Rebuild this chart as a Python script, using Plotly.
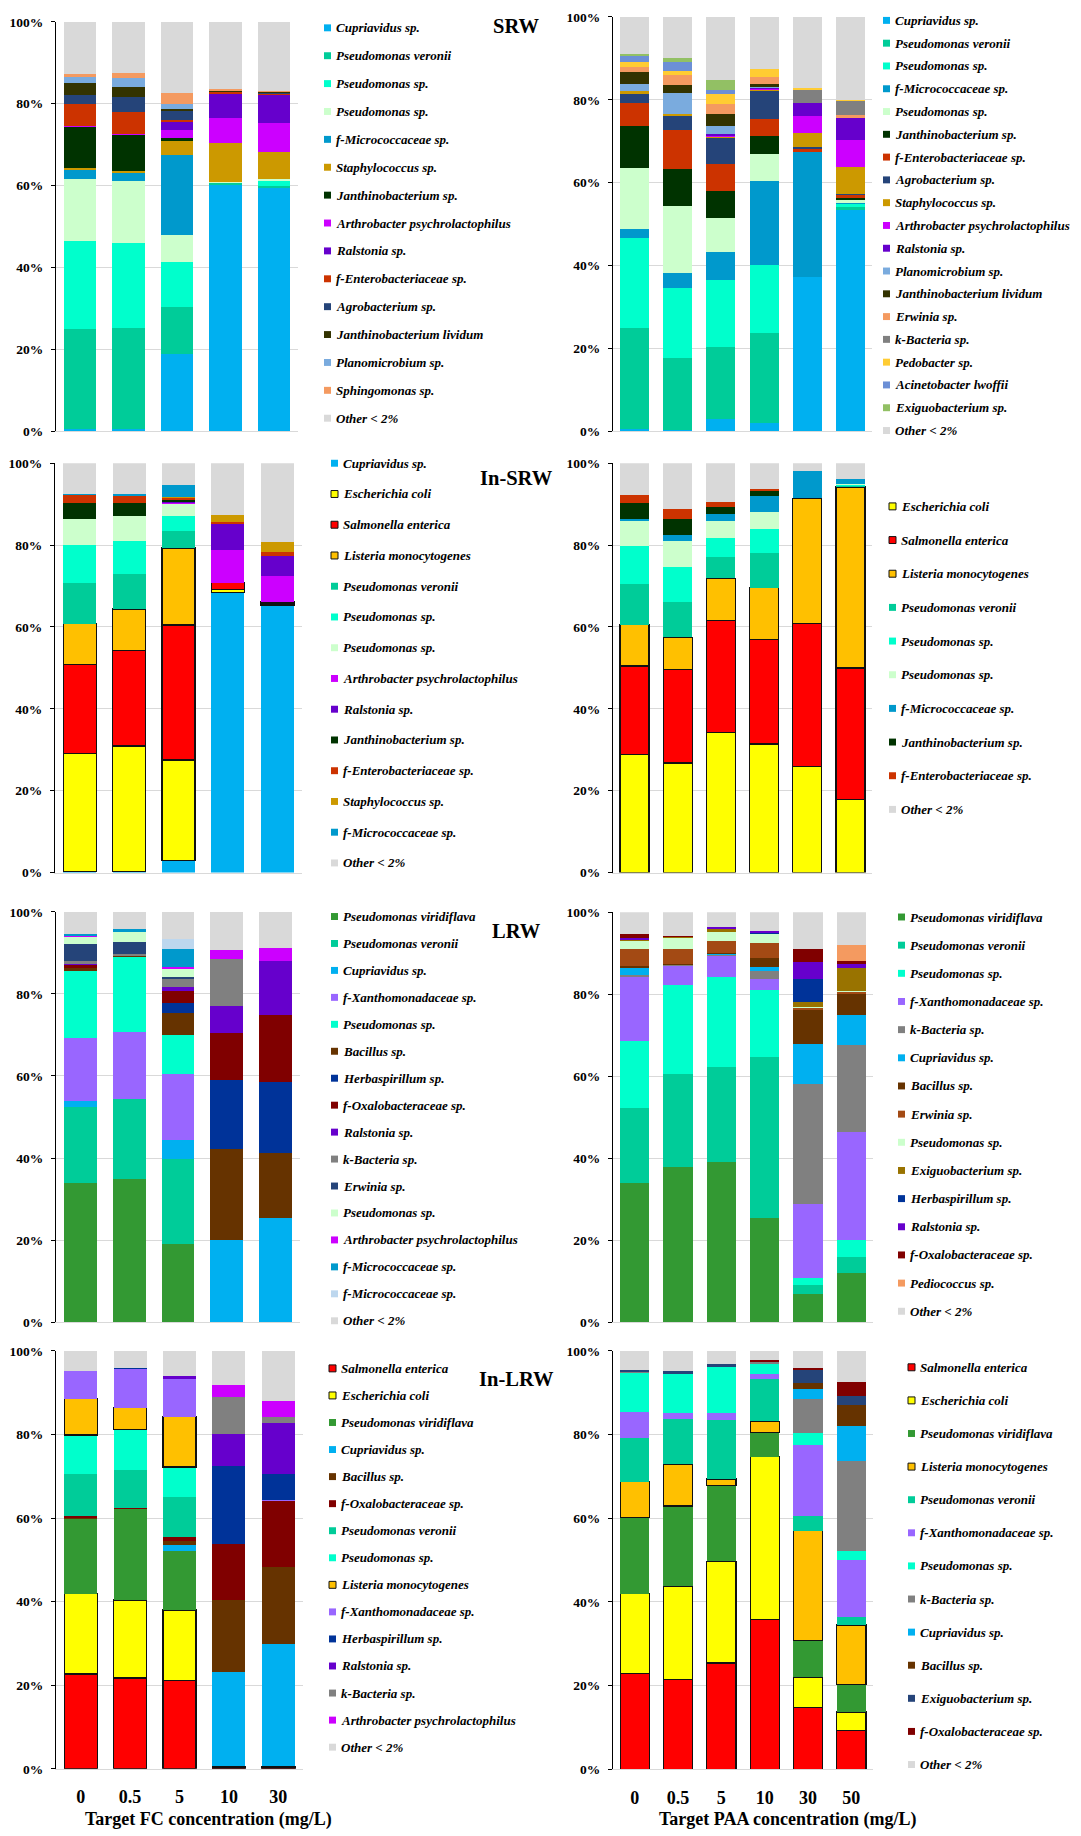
import plotly.graph_objects as go

W, H = 1081, 1836
FONT = "Liberation Serif"

FC_DOSES = ["0", "0.5", "5", "10", "30"]
PAA_DOSES = ["0", "0.5", "5", "10", "30", "50"]

PATHOGENS = {"Escherichia coli", "Salmonella enterica", "Listeria monocytogenes"}

# ---------------- SRW, free chlorine ----------------
SRW_FC_TAXA = ["Cupriavidus sp.", "Pseudomonas veronii", "Pseudomonas sp.", "Pseudomonas sp.",
               "f-Micrococcaceae sp.", "Staphylococcus sp.", "Janthinobacterium sp.",
               "Arthrobacter psychrolactophilus", "Ralstonia sp.", "f-Enterobacteriaceae sp.",
               "Agrobacterium sp.", "Janthinobacterium lividum", "Planomicrobium sp.",
               "Sphingomonas sp.", "Other < 2%"]
SRW_FC_COLOURS = ["#00B0F0", "#00CC99", "#00FFCC", "#CCFFCC", "#0099CC", "#CC9900", "#003300",
                  "#CC00FF", "#6600CC", "#CC3300", "#254479", "#333300", "#7AABDE", "#F49A60",
                  "#D9D9D9"]
SRW_FC_VALUES = [
    [0.5, 0.5, 18.9, 60.4, 59.5],
    [24.4, 24.6, 11.4, 0.4, 0.5],
    [21.6, 20.9, 11.1, 0.0, 1.2],
    [15.0, 15.2, 6.5, 0.2, 0.4],
    [2.2, 2.0, 19.5, 0.0, 0.0],
    [0.6, 0.4, 3.4, 9.3, 6.7],
    [10.1, 8.8, 0.8, 0.0, 0.0],
    [0.2, 0.1, 2.1, 6.1, 7.1],
    [0.0, 0.0, 2.0, 6.1, 6.8],
    [5.4, 5.6, 0.4, 0.4, 0.4],
    [2.2, 3.5, 2.3, 0.2, 0.2],
    [2.8, 2.5, 0.4, 0.1, 0.3],
    [1.5, 2.3, 1.2, 0.0, 0.0],
    [0.8, 1.0, 2.6, 0.4, 0.1],
    [12.7, 12.6, 17.4, 16.4, 16.8],
]

# ---------------- SRW, peracetic acid ----------------
SRW_PAA_TAXA = ["Cupriavidus sp.", "Pseudomonas veronii", "Pseudomonas sp.", "f-Micrococcaceae sp.",
                "Pseudomonas sp.", "Janthinobacterium sp.", "f-Enterobacteriaceae sp.",
                "Agrobacterium sp.", "Staphylococcus sp.", "Arthrobacter psychrolactophilus",
                "Ralstonia sp.", "Planomicrobium sp.", "Janthinobacterium lividum", "Erwinia sp.",
                "k-Bacteria sp.", "Pedobacter sp.", "Acinetobacter lwoffii", "Exiguobacterium sp.",
                "Other < 2%"]
SRW_PAA_COLOURS = ["#00B0F0", "#00CC99", "#00FFCC", "#0099CC", "#CCFFCC", "#003300", "#CC3300",
                   "#254479", "#CC9900", "#CC00FF", "#6600CC", "#7AABDE", "#333300", "#F49A60",
                   "#808080", "#FFCC33", "#6C8FD6", "#92C064", "#D9D9D9"]
SRW_PAA_VALUES = [
    [0.6, 0.4, 3.0, 2.0, 37.3, 53.5],
    [24.4, 17.3, 17.4, 21.8, 0.0, 0.6],
    [21.6, 16.9, 16.2, 16.4, 0.0, 1.0],
    [2.2, 3.6, 6.6, 20.3, 30.1, 0.2],
    [14.8, 16.1, 8.2, 6.3, 0.0, 0.4],
    [10.1, 9.1, 6.7, 4.5, 0.0, 0.5],
    [5.6, 9.3, 6.5, 4.0, 0.7, 0.9],
    [2.2, 3.6, 6.2, 6.9, 0.5, 0.2],
    [0.5, 0.3, 0.2, 0.2, 3.4, 6.5],
    [0.0, 0.0, 0.5, 0.4, 4.1, 6.6],
    [0.0, 0.0, 0.2, 0.3, 3.2, 5.3],
    [1.9, 5.0, 2.0, 0.2, 0.0, 0.0],
    [2.8, 2.0, 2.9, 0.4, 0.0, 0.0],
    [1.2, 2.3, 2.5, 1.7, 0.0, 0.6],
    [0.0, 0.0, 0.0, 0.0, 3.3, 3.5],
    [1.2, 1.1, 2.3, 2.0, 0.2, 0.2],
    [1.6, 2.2, 1.0, 0.0, 0.0, 0.0],
    [0.4, 0.8, 2.4, 0.0, 0.0, 0.0],
    [8.9, 10.0, 15.2, 12.6, 17.2, 20.0],
]

# ---------------- inoculated SRW, free chlorine ----------------
INSRW_FC_TAXA = ["Cupriavidus sp.", "Escherichia coli", "Salmonella enterica",
                 "Listeria monocytogenes", "Pseudomonas veronii", "Pseudomonas sp.",
                 "Pseudomonas sp.", "Arthrobacter psychrolactophilus", "Ralstonia sp.",
                 "Janthinobacterium sp.", "f-Enterobacteriaceae sp.", "Staphylococcus sp.",
                 "f-Micrococcaceae sp.", "Other < 2%"]
INSRW_FC_COLOURS = ["#00B0F0", "#FFFF00", "#FF0000", "#FFC000", "#00CC99", "#00FFCC", "#CCFFCC",
                    "#CC00FF", "#6600CC", "#003300", "#CC3300", "#CC9900", "#0099CC", "#D9D9D9"]
INSRW_FC_VALUES = [
    [0.2, 0.2, 2.9, 68.5, 65.3],
    [28.9, 30.7, 24.6, 0.6, 0.3],
    [21.8, 23.3, 33.0, 1.7, 0.3],
    [9.9, 10.2, 18.8, 0.0, 0.2],
    [9.9, 8.5, 4.1, 0.0, 0.0],
    [9.3, 8.2, 3.8, 0.0, 0.0],
    [6.3, 6.1, 2.8, 0.0, 0.0],
    [0.0, 0.0, 0.4, 8.0, 6.3],
    [0.0, 0.0, 0.2, 6.5, 5.0],
    [4.0, 3.1, 0.4, 0.0, 0.0],
    [1.9, 1.8, 0.6, 0.4, 0.8],
    [0.0, 0.0, 0.2, 1.7, 2.6],
    [0.4, 0.5, 2.9, 0.0, 0.0],
    [7.4, 7.4, 5.3, 12.6, 19.2],
]

# ---------------- inoculated SRW, peracetic acid ----------------
INSRW_PAA_TAXA = ["Escherichia coli", "Salmonella enterica", "Listeria monocytogenes",
                  "Pseudomonas veronii", "Pseudomonas sp.", "Pseudomonas sp.",
                  "f-Micrococcaceae sp.", "Janthinobacterium sp.", "f-Enterobacteriaceae sp.",
                  "Other < 2%"]
INSRW_PAA_COLOURS = ["#FFFF00", "#FF0000", "#FFC000", "#00CC99", "#00FFCC", "#CCFFCC",
                     "#0099CC", "#003300", "#CC3300", "#D9D9D9"]
INSRW_PAA_VALUES = [
    [28.8, 26.8, 34.2, 31.4, 25.9, 17.9],
    [21.7, 22.8, 27.4, 25.6, 34.9, 32.1],
    [10.1, 7.9, 10.3, 12.6, 30.6, 44.2],
    [9.8, 8.6, 5.2, 8.4, 0.0, 0.2],
    [9.3, 8.5, 4.7, 6.0, 0.0, 0.4],
    [6.3, 6.5, 4.2, 4.2, 0.0, 0.2],
    [0.5, 1.3, 1.7, 3.7, 6.7, 1.2],
    [3.9, 4.0, 1.6, 1.2, 0.0, 0.0],
    [1.8, 2.5, 1.2, 0.6, 0.0, 0.0],
    [7.8, 11.1, 9.5, 6.3, 1.9, 3.8],
]

# ---------------- LRW, free chlorine ----------------
LRW_FC_TAXA = ["Pseudomonas viridiflava", "Pseudomonas veronii", "Cupriavidus sp.",
               "f-Xanthomonadaceae sp.", "Pseudomonas sp.", "Bacillus sp.", "Herbaspirillum sp.",
               "f-Oxalobacteraceae sp.", "Ralstonia sp.", "k-Bacteria sp.", "Erwinia sp.",
               "Pseudomonas sp.", "Arthrobacter psychrolactophilus", "f-Micrococcaceae sp.",
               "f-Micrococcaceae sp.", "Other < 2%"]
LRW_FC_COLOURS = ["#339933", "#00CC99", "#00B0F0", "#9966FF", "#00FFCC", "#663300", "#003399",
                  "#800000", "#6600CC", "#808080", "#254479", "#CCFFCC", "#CC00FF", "#0099CC",
                  "#BDD7EE", "#D9D9D9"]
LRW_FC_VALUES = [
    [34.0, 34.9, 19.1, 0.0, 0.0],
    [18.4, 19.5, 20.7, 0.0, 0.0],
    [1.4, 0.0, 4.5, 20.1, 25.5],
    [15.5, 16.4, 16.1, 0.0, 0.0],
    [16.4, 18.3, 9.7, 0.0, 0.0],
    [0.5, 0.2, 5.3, 22.1, 15.8],
    [0.0, 0.0, 2.4, 16.7, 17.2],
    [0.9, 0.2, 2.9, 11.6, 16.3],
    [0.3, 0.0, 1.0, 6.6, 13.3],
    [0.7, 0.3, 2.1, 11.4, 0.0],
    [4.0, 2.9, 0.3, 0.0, 0.0],
    [1.9, 2.4, 2.2, 0.0, 0.0],
    [0.3, 0.0, 0.3, 2.2, 3.1],
    [0.4, 0.6, 4.4, 0.0, 0.0],
    [0.0, 0.0, 2.3, 0.0, 0.0],
    [5.3, 4.3, 6.7, 9.3, 8.8],
]

# ---------------- LRW, peracetic acid ----------------
LRW_PAA_TAXA = ["Pseudomonas viridiflava", "Pseudomonas veronii", "Pseudomonas sp.",
                "f-Xanthomonadaceae sp.", "k-Bacteria sp.", "Cupriavidus sp.", "Bacillus sp.",
                "Erwinia sp.", "Pseudomonas sp.", "Exiguobacterium sp.", "Herbaspirillum sp.",
                "Ralstonia sp.", "f-Oxalobacteraceae sp.", "Pediococcus sp.", "Other < 2%"]
LRW_PAA_COLOURS = ["#339933", "#00CC99", "#00FFCC", "#9966FF", "#808080", "#00B0F0", "#663300",
                   "#A34A14", "#CCFFCC", "#997300", "#003399", "#6600CC", "#800000", "#F49A60",
                   "#D9D9D9"]
LRW_PAA_VALUES = [
    [34.0, 37.9, 39.0, 25.5, 6.9, 12.1],
    [18.3, 22.6, 23.2, 39.1, 2.1, 3.9],
    [16.4, 21.8, 22.0, 16.4, 1.7, 4.0],
    [15.4, 4.6, 5.2, 2.7, 18.2, 26.3],
    [0.7, 0.2, 0.2, 2.0, 29.2, 21.4],
    [1.6, 0.0, 0.2, 1.0, 9.7, 7.3],
    [0.5, 0.3, 0.2, 2.2, 8.5, 5.1],
    [4.1, 3.6, 2.9, 3.5, 0.4, 0.4],
    [2.0, 2.8, 2.3, 2.3, 0.2, 0.2],
    [0.2, 0.2, 0.8, 0.0, 1.3, 5.7],
    [0.0, 0.0, 0.0, 0.4, 5.5, 0.0],
    [0.4, 0.0, 0.5, 0.4, 4.1, 0.9],
    [1.0, 0.2, 0.0, 0.0, 3.3, 0.8],
    [0.0, 0.0, 0.0, 0.0, 0.0, 4.0],
    [5.4, 5.8, 3.5, 4.5, 8.9, 7.9],
]

# ---------------- inoculated LRW, free chlorine ----------------
INLRW_FC_TAXA = ["Salmonella enterica", "Escherichia coli", "Pseudomonas viridiflava",
                 "Cupriavidus sp.", "Bacillus sp.", "f-Oxalobacteraceae sp.", "Pseudomonas veronii",
                 "Pseudomonas sp.", "Listeria monocytogenes", "f-Xanthomonadaceae sp.",
                 "Herbaspirillum sp.", "Ralstonia sp.", "k-Bacteria sp.",
                 "Arthrobacter psychrolactophilus", "Other < 2%"]
INLRW_FC_COLOURS = ["#FF0000", "#FFFF00", "#339933", "#00B0F0", "#663300", "#800000", "#00CC99",
                    "#00FFCC", "#FFC000", "#9966FF", "#003399", "#6600CC", "#808080", "#CC00FF",
                    "#D9D9D9"]
INLRW_FC_VALUES = [
    [22.7, 21.7, 21.1, 0.4, 0.4],
    [19.2, 18.7, 16.9, 0.2, 0.2],
    [18.1, 21.8, 14.1, 0.0, 0.0],
    [0.0, 0.0, 1.4, 22.6, 29.3],
    [0.1, 0.0, 1.1, 17.3, 18.5],
    [0.3, 0.3, 0.9, 13.4, 15.8],
    [10.2, 8.9, 9.6, 0.0, 0.0],
    [9.3, 9.8, 7.1, 0.0, 0.0],
    [8.7, 5.2, 12.1, 0.0, 0.0],
    [6.7, 9.4, 9.0, 0.0, 0.2],
    [0.0, 0.2, 0.0, 18.5, 6.1],
    [0.0, 0.0, 0.8, 7.6, 12.3],
    [0.0, 0.0, 0.0, 9.0, 1.5],
    [0.0, 0.0, 0.0, 2.8, 3.6],
    [4.7, 4.0, 5.9, 8.2, 12.1],
]

# ---------------- inoculated LRW, peracetic acid ----------------
INLRW_PAA_TAXA = ["Salmonella enterica", "Escherichia coli", "Pseudomonas viridiflava",
                  "Listeria monocytogenes", "Pseudomonas veronii", "f-Xanthomonadaceae sp.",
                  "Pseudomonas sp.", "k-Bacteria sp.", "Cupriavidus sp.", "Bacillus sp.",
                  "Exiguobacterium sp.", "f-Oxalobacteraceae sp.", "Other < 2%"]
INLRW_PAA_COLOURS = ["#FF0000", "#FFFF00", "#339933", "#FFC000", "#00CC99", "#9966FF", "#00FFCC",
                     "#808080", "#00B0F0", "#663300", "#254479", "#800000", "#D9D9D9"]
INLRW_PAA_VALUES = [
    [22.8, 21.5, 25.4, 35.8, 14.7, 9.2],
    [19.2, 22.2, 24.3, 38.9, 7.3, 4.5],
    [18.1, 19.2, 18.1, 5.8, 8.8, 6.5],
    [8.6, 10.1, 1.6, 2.7, 26.2, 14.3],
    [10.4, 10.8, 14.0, 10.2, 3.5, 2.0],
    [6.4, 1.4, 1.7, 1.0, 17.0, 13.6],
    [9.4, 9.4, 11.0, 2.7, 2.8, 2.1],
    [0.2, 0.0, 0.0, 0.3, 8.2, 21.6],
    [0.0, 0.0, 0.0, 0.0, 2.4, 8.3],
    [0.0, 0.0, 0.0, 0.0, 1.4, 4.9],
    [0.3, 0.5, 0.7, 0.0, 3.3, 2.3],
    [0.0, 0.0, 0.0, 0.5, 0.2, 3.2],
    [4.6, 4.9, 3.2, 2.1, 4.2, 7.5],
]

Y_TICKS = [0, 20, 40, 60, 80, 100]
Y_TICK_TEXT = ["0%", "20%", "40%", "60%", "80%", "100%"]


def px(x):
    return x / W


def py(y):
    return 1 - y / H


# plot box (left, right, top, bottom) and legend column (square x, first row y, last row y)
PANELS = [
    dict(taxa=SRW_FC_TAXA, colours=SRW_FC_COLOURS, values=SRW_FC_VALUES, doses=FC_DOSES,
         box=(56, 298, 15, 427.7), leg=(324, 21, 414.6), title=("SRW", 19), bottom=False),
    dict(taxa=SRW_PAA_TAXA, colours=SRW_PAA_COLOURS, values=SRW_PAA_VALUES, doses=PAA_DOSES,
         box=(613, 872, 10, 427.7), leg=(883, 13.5, 427), title=None, bottom=False),
    dict(taxa=INSRW_FC_TAXA, colours=INSRW_FC_COLOURS, values=INSRW_FC_VALUES, doses=FC_DOSES,
         box=(55, 302, 460, 872.7), leg=(331, 460, 863), title=("In-SRW", 475), bottom=False),
    dict(taxa=INSRW_PAA_TAXA, colours=INSRW_PAA_COLOURS, values=INSRW_PAA_VALUES, doses=PAA_DOSES,
         box=(613, 872, 460, 872.7), leg=(889, 503.5, 809), title=None, bottom=False),
    dict(taxa=LRW_FC_TAXA, colours=LRW_FC_COLOURS, values=LRW_FC_VALUES, doses=FC_DOSES,
         box=(56, 300, 912.3, 1326), leg=(331, 917, 1324.6), title=("LRW", 932), bottom=False),
    dict(taxa=LRW_PAA_TAXA, colours=LRW_PAA_COLOURS, values=LRW_PAA_VALUES, doses=PAA_DOSES,
         box=(613, 873, 912.7, 1326), leg=(898, 917.5, 1315), title=None, bottom=False),
    dict(taxa=INLRW_FC_TAXA, colours=INLRW_FC_COLOURS, values=INLRW_FC_VALUES, doses=FC_DOSES,
         box=(56, 303, 1355, 1776.3), leg=(329, 1372.6, 1754.5), title=("In-LRW", 1383),
         bottom=True),
    dict(taxa=INLRW_PAA_TAXA, colours=INLRW_PAA_COLOURS, values=INLRW_PAA_VALUES,
         doses=PAA_DOSES, box=(613, 873, 1355, 1776.7), leg=(908, 1371.5, 1772), title=None,
         bottom=True),
]

fig = go.Figure()
shapes, annotations = [], []
layout = {}

SQ = 7  # legend swatch size in px

for i, p in enumerate(PANELS, start=1):
    xa = "x" if i == 1 else f"x{i}"
    ya = "y" if i == 1 else f"y{i}"
    for name, colour, vals in zip(p["taxa"], p["colours"], p["values"]):
        is_path = name in PATHOGENS
        fig.add_trace(go.Bar(
            x=p["doses"], y=vals, name=name, xaxis=xa, yaxis=ya, showlegend=False,
            marker=dict(color=colour,
                        line=dict(color="#111111", width=1.3 if is_path else 0)),
            hovertemplate=name + ": %{y:.1f}%<extra></extra>",
        ))

    x0, x1, y0, y1 = p["box"]
    layout["xaxis" if i == 1 else f"xaxis{i}"] = dict(
        domain=[px(x0), px(x1)], anchor=ya, type="category",
        range=[-0.5, len(p["doses"]) - 0.5],
        showline=True, linecolor="#D9D9D9", linewidth=1, ticks="",
        showgrid=False, showticklabels=p["bottom"], ticklabelstandoff=12,
        tickfont=dict(family=FONT, size=18, color="black", weight="bold"),
    )
    layout["yaxis" if i == 1 else f"yaxis{i}"] = dict(
        domain=[py(y1), py(y0)], anchor=xa, range=[0, 100],
        tickmode="array", tickvals=Y_TICKS, ticktext=Y_TICK_TEXT,
        showgrid=True, gridcolor="#D9D9D9", gridwidth=1, zeroline=False,
        showline=True, linecolor="black", linewidth=1.3,
        ticks="outside", ticklen=4, tickcolor="black", tickwidth=1.3,
        ticklabelstandoff=5,
        tickfont=dict(family=FONT, size=13.5, color="black", weight="bold"),
    )

    # legend column
    sx, ly0, ly1 = p["leg"]
    n = len(p["taxa"])
    step = (ly1 - ly0) / (n - 1)
    for k, (name, colour) in enumerate(zip(p["taxa"], p["colours"])):
        yc = ly0 + k * step
        is_path = name in PATHOGENS
        shapes.append(dict(
            type="rect", xref="paper", yref="paper",
            x0=px(sx), x1=px(sx + SQ), y0=py(yc + SQ / 2), y1=py(yc - SQ / 2),
            fillcolor=colour,
            line=dict(color="#111111" if is_path else colour, width=1 if is_path else 0),
        ))
        annotations.append(dict(
            xref="paper", yref="paper", x=px(sx + SQ + 3), y=py(yc),
            xanchor="left", yanchor="middle", showarrow=False,
            text=name.replace("<", "&lt;"),
            font=dict(family=FONT, size=13, color="black", weight="bold", style="italic"),
        ))

    if p["title"]:
        label, ty = p["title"]
        annotations.append(dict(
            xref="paper", yref="paper", x=px(516), y=py(ty),
            xanchor="center", yanchor="middle", showarrow=False, text=label,
            font=dict(family=FONT, size=20.5, color="black", weight="bold"),
        ))

# x-axis captions under the bottom row
annotations.append(dict(
    xref="paper", yref="paper", x=px(208), y=py(1827), xanchor="center", yanchor="middle",
    showarrow=False, text="Target FC concentration (mg/L)",
    font=dict(family=FONT, size=18, color="black", weight="bold"),
))
annotations.append(dict(
    xref="paper", yref="paper", x=px(788), y=py(1827), xanchor="center", yanchor="middle",
    showarrow=False, text="Target PAA concentration (mg/L)",
    font=dict(family=FONT, size=18, color="black", weight="bold"),
))

fig.update_layout(
    width=W, height=H, autosize=False,
    margin=dict(l=0, r=0, t=0, b=0),
    paper_bgcolor="white", plot_bgcolor="white",
    barmode="stack", bargap=0.33,
    shapes=shapes, annotations=annotations,
    **layout,
)

fig.write_html("out.html")
